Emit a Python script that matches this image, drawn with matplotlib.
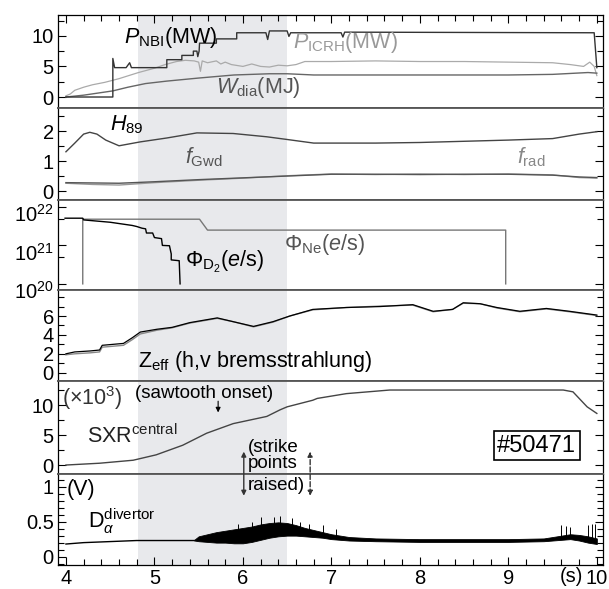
import matplotlib.pyplot as plt
import matplotlib.transforms as mtransforms
from matplotlib.ticker import MultipleLocator, FixedLocator, LogLocator, NullFormatter

plt.rcParams['font.family'] = ['Liberation Sans', 'DejaVu Sans']
plt.rcParams['mathtext.fontset'] = 'custom'
plt.rcParams['mathtext.rm'] = 'Liberation Sans'
plt.rcParams['mathtext.it'] = 'Liberation Sans:italic'
plt.rcParams['mathtext.bf'] = 'Liberation Sans:bold'

# janela analisada (faixa sombreada)
t_janela = [4.82, 6.5]

# painel 1: potencias e energia
t_nbi = [4.0, 4.53, 4.53, 4.55, 4.68, 4.72, 4.74, 5.14, 5.14, 5.31, 5.31, 5.44, 5.44, 5.48,
         5.49, 5.505, 5.51, 5.70, 5.70, 5.93, 5.93, 6.26, 6.28, 6.30, 6.50, 6.52, 6.54,
         7.11, 7.13, 7.15, 9.97, 10.0]
p_nbi = [0.0, 0.0, 6.3, 4.8, 4.8, 5.6, 4.8, 4.8, 6.1, 6.1, 6.8, 6.8, 7.5, 7.5,
         6.6, 7.5, 8.8, 8.8, 9.5, 9.5, 10.5, 10.5, 9.4, 10.8, 10.8, 9.9, 10.5,
         10.5, 9.8, 10.6, 10.5, 4.8]

t_icrh = [4.0, 4.05, 4.1, 4.2, 4.3, 4.44, 4.6, 4.82, 5.0, 5.12, 5.25, 5.35, 5.45, 5.5, 5.52,
          5.54, 5.6, 5.7, 5.75, 5.8, 5.87, 6.0, 6.1, 6.2, 6.3, 6.4, 6.5, 6.6, 6.7, 7.0,
          7.5, 8.0, 8.5, 9.0, 9.5, 9.7, 9.85, 9.92, 9.97, 10.0]
p_icrh = [0.2, 0.5, 1.1, 1.6, 2.0, 2.4, 3.0, 4.0, 4.7, 5.3, 5.8, 6.0, 5.9, 5.7, 4.2,
          5.9, 5.6, 5.9, 5.4, 5.7, 5.3, 5.0, 5.4, 5.0, 4.9, 5.2, 5.1, 5.3, 5.8, 5.8,
          5.9, 5.8, 5.8, 5.7, 5.6, 5.3, 5.0, 5.7, 5.0, 3.5]

t_wdia = [4.0, 4.2, 4.53, 4.7, 4.9, 5.14, 5.5, 5.9, 6.3, 6.5, 6.8, 7.5, 8.0, 8.5, 9.0, 9.5, 9.9, 10.0]
w_dia = [0.0, 0.3, 1.0, 1.6, 2.2, 2.6, 3.1, 3.6, 3.8, 3.8, 3.6, 3.6, 3.6, 3.6, 3.6, 3.7, 4.0, 3.9]

# painel 2: H89, fGwd, frad
t_h89 = [4.0, 4.1, 4.2, 4.27, 4.35, 4.45, 4.6, 4.84, 5.14, 5.48, 5.89, 6.27, 6.5, 6.8,
         7.5, 8.0, 8.5, 9.0, 9.5, 9.8, 10.0]
h89 = [1.31, 1.6, 1.9, 1.96, 1.9, 1.7, 1.51, 1.64, 1.77, 1.94, 1.92, 1.81, 1.72, 1.6,
       1.6, 1.62, 1.66, 1.7, 1.75, 1.9, 1.98]

t_f = [4.0, 4.3, 4.6, 5.0, 5.5, 6.0, 6.5, 7.0, 7.5, 8.0, 8.5, 9.0, 9.5, 9.8, 10.0]
f_gwd = [0.28, 0.27, 0.26, 0.31, 0.38, 0.44, 0.50, 0.56, 0.56, 0.55, 0.56, 0.56, 0.53, 0.47, 0.45]
f_rad = [0.26, 0.22, 0.20, 0.28, 0.36, 0.43, 0.51, 0.57, 0.55, 0.57, 0.55, 0.57, 0.54, 0.45, 0.43]

# painel 3: fluxos de D2 e Ne (e/s)
t_d2 = [3.99, 4.19, 4.2, 4.5, 4.75, 4.8, 4.86, 4.9, 4.91, 4.98, 5.0, 5.08, 5.09, 5.17,
        5.19, 5.19, 5.28, 5.29]
phi_d2 = [5.1e21, 5.1e21, 4.6e21, 4.0e21, 3.3e21, 3.1e21, 2.8e21, 2.7e21, 2.1e21, 2.1e21,
          1.6e21, 1.5e21, 1.0e21, 9.8e20, 6.0e20, 4.2e20, 4.0e20, 1.0e20]

t_ne = [4.19, 4.19, 5.51, 5.6, 8.97, 8.97]
phi_ne = [1.0e20, 4.8e21, 4.8e21, 2.5e21, 2.5e21, 1.0e20]

# painel 4: Zeff (h e v)
t_zeff = [4.0, 4.1, 4.27, 4.38, 4.41, 4.65, 4.75, 4.84, 5.03, 5.2, 5.4, 5.71, 5.89, 6.12,
          6.34, 6.53, 6.79, 7.17, 7.55, 7.92, 8.15, 8.37, 8.49, 8.68, 8.87, 9.13, 9.43,
          9.69, 10.0]
zeff_h = [2.0, 2.2, 2.3, 2.4, 2.9, 3.1, 3.7, 4.3, 4.6, 4.8, 5.3, 5.8, 5.4, 4.9,
          5.4, 6.0, 6.7, 6.9, 7.0, 7.2, 6.5, 6.7, 7.4, 7.3, 6.9, 6.5, 6.8, 6.5, 6.1]
zeff_v = [1.9, 2.0, 2.1, 2.2, 2.7, 2.9, 3.5, 4.1, 4.5, 4.75, 5.25, 5.75, 5.4, 4.85,
          5.35, 6.0, 6.65, 6.9, 7.05, 7.15, 6.45, 6.7, 7.35, 7.3, 6.85, 6.45, 6.75, 6.45, 6.05]

# painel 5: SXR central (x10^3)
t_sxr = [4.0, 4.38, 4.76, 5.02, 5.32, 5.59, 5.89, 6.08, 6.27, 6.42, 6.5, 6.79, 6.84, 7.17,
         7.66, 8.3, 9.05, 9.62, 9.73, 9.89, 10.0]
sxr = [0.0, 0.3, 0.8, 1.7, 3.3, 5.3, 6.9, 7.5, 8.1, 9.2, 9.7, 10.8, 11.1, 11.9,
       12.5, 12.5, 12.5, 12.5, 12.2, 9.7, 8.6]

# painel 6: D-alpha no divertor (V)
t_da = [4.0, 4.2, 4.4, 4.6, 4.8, 5.0, 5.2, 5.45]
d_alpha = [0.18, 0.20, 0.21, 0.22, 0.23, 0.23, 0.23, 0.23]
t_da_env = [5.45, 5.5, 5.6, 5.7, 5.8, 5.9, 6.0, 6.1, 6.2, 6.3, 6.4, 6.5, 6.6, 6.7, 6.8, 6.9,
            7.0, 7.2, 7.5, 8.0, 8.5, 9.0, 9.4, 9.6, 9.7, 9.8, 9.9, 10.0]
da_baixo = [0.23, 0.22, 0.21, 0.20, 0.20, 0.19, 0.19, 0.21, 0.24, 0.27, 0.29, 0.30, 0.30, 0.29,
            0.28, 0.27, 0.25, 0.23, 0.22, 0.21, 0.21, 0.21, 0.22, 0.24, 0.25, 0.23, 0.20, 0.18]
da_cima = [0.24, 0.29, 0.32, 0.35, 0.37, 0.39, 0.41, 0.43, 0.46, 0.48, 0.49, 0.48, 0.45, 0.41,
           0.38, 0.35, 0.32, 0.28, 0.26, 0.25, 0.25, 0.25, 0.26, 0.30, 0.32, 0.31, 0.29, 0.26]
t_elm = [5.95, 6.1, 6.2, 6.35, 6.42, 6.55, 6.65, 6.75, 6.9, 7.05, 9.6, 9.65, 9.7, 9.9, 9.95, 9.98]
elm_base = [0.3, 0.35, 0.4, 0.4, 0.4, 0.4, 0.38, 0.35, 0.3, 0.28, 0.28, 0.28, 0.28, 0.25, 0.25, 0.24]
elm_pico = [0.46, 0.50, 0.56, 0.56, 0.58, 0.55, 0.50, 0.47, 0.45, 0.40, 0.45, 0.44, 0.42, 0.45, 0.47, 0.46]

TICK = 14.5
ROT = 15.5
PEQ = 13.5

fig = plt.figure(figsize=(6.09, 5.89), dpi=100)
esq, larg = 0.0952, 0.895
caixas = [(0.8166, 0.1579), (0.6604, 0.1562), (0.5076, 0.1528),
          (0.3531, 0.1545), (0.1952, 0.1579), (0.0407, 0.1545)]
axs = [fig.add_axes([esq, b, larg, h]) for b, h in caixas]
ax1, ax2, ax3, ax4, ax5, ax6 = axs

for i, ax in enumerate(axs):
    ax.axvspan(t_janela[0], t_janela[1], color='#e8e9ec', zorder=0, lw=0)
    ax.set_xlim(3.91, 10.07)
    ax.xaxis.set_major_locator(MultipleLocator(1))
    ax.xaxis.set_minor_locator(MultipleLocator(0.2))
    ax.tick_params(which='both', direction='in', left=True, right=True,
                   top=(i == 0), bottom=(i == 5), labelbottom=(i == 5),
                   labelsize=TICK, width=0.8, pad=3)
    ax.tick_params(which='major', length=6)
    ax.tick_params(which='minor', length=4)
    for lado in ['left', 'right']:
        ax.spines[lado].set_color('black')
        ax.spines[lado].set_linewidth(0.9)
    ax.spines['top'].set_color('black' if i == 0 else '#555555')
    ax.spines['bottom'].set_color('black' if i == 5 else '#555555')
    ax.spines['top'].set_linewidth(0.9 if i == 0 else 1.3)
    ax.spines['bottom'].set_linewidth(0.9 if i == 5 else 1.3)

# painel 1
ax1.plot(t_icrh, p_icrh, color='#aaaaaa', lw=0.9)
ax1.plot(t_wdia, w_dia, color='#666666', lw=1.0)
ax1.plot(t_nbi, p_nbi, color='#333333', lw=1.0)
ax1.set_ylim(-1.8, 13.4)
ax1.yaxis.set_major_locator(FixedLocator([0, 5, 10]))
ax1.yaxis.set_minor_locator(MultipleLocator(2.5))
ax1.text(4.66, 8.9, r'$P_{\rm NBI}$(MW)', fontsize=ROT, color='black')
ax1.text(6.57, 8.0, r'$P_{\rm ICRH}$(MW)', fontsize=ROT, color='#999999')
ax1.text(5.70, 0.6, r'$W_{\rm dia}$(MJ)', fontsize=ROT, color='#555555')

# painel 2
ax2.plot(t_f, f_rad, color='#999999', lw=1.0)
ax2.plot(t_f, f_gwd, color='#555555', lw=1.0)
ax2.plot(t_h89, h89, color='#444444', lw=1.0)
ax2.set_ylim(-0.3, 2.77)
ax2.yaxis.set_major_locator(FixedLocator([0, 1, 2]))
ax2.yaxis.set_minor_locator(MultipleLocator(0.5))
ax2.text(4.5, 2.03, r'$H_{89}$', fontsize=ROT, color='black')
ax2.text(5.34, 0.93, r'$f_{\rm Gwd}$', fontsize=ROT, color='#555555')
ax2.text(9.1, 0.93, r'$f_{\rm rad}$', fontsize=ROT, color='#888888')

# painel 3
ax3.set_yscale('log')
ax3.plot(t_ne, phi_ne, color='#777777', lw=1.0)
ax3.plot(t_d2, phi_d2, color='black', lw=1.0)
ax3.set_ylim(10**19.84, 10**22.18)
ax3.yaxis.set_major_locator(FixedLocator([1e20, 1e21, 1e22]))
ax3.yaxis.set_minor_locator(FixedLocator([5e20, 5e21]))
ax3.yaxis.set_minor_formatter(NullFormatter())
ax3.text(5.34, 2.7e20, r'$\Phi_{\rm D_2}$($e$/s)', fontsize=ROT, color='black')
ax3.text(6.47, 7.6e20, r'$\Phi_{\rm Ne}$($e$/s)', fontsize=ROT, color='#555555')

# painel 4
ax4.plot(t_zeff, zeff_v, color='#888888', lw=1.0)
ax4.plot(t_zeff, zeff_h, color='black', lw=0.9)
ax4.set_ylim(-0.88, 8.75)
ax4.yaxis.set_major_locator(FixedLocator([0, 2, 4, 6]))
ax4.yaxis.set_minor_locator(MultipleLocator(1))
ax4.text(4.81, 0.6, r'Z$_{\rm eff}$ (h,v bremsstrahlung)', fontsize=ROT, color='black')

# painel 5
ax5.plot(t_sxr, sxr, color='#444444', lw=1.0)
ax5.set_ylim(-1.5, 14.0)
ax5.yaxis.set_major_locator(FixedLocator([0, 5, 10]))
ax5.yaxis.set_minor_locator(MultipleLocator(2.5))
ax5.text(3.96, 10.0, r'($\times$10$^3$)', fontsize=ROT, color='#333333')
ax5.text(4.24, 3.7, r'SXR$^{\rm central}$', fontsize=ROT, color='#222222')
ax5.text(4.78, 11.2, '(sawtooth onset)', fontsize=PEQ, color='black')
ax5.annotate('', xy=(5.72, 8.3), xytext=(5.72, 11.1),
             arrowprops=dict(arrowstyle='-|>', color='black', lw=0.8, mutation_scale=7))
ax5.text(9.32, 3.2, '#50471', fontsize=17, ha='center', va='center',
         bbox=dict(boxstyle='square,pad=0.15', fc='white', ec='black', lw=1.2))
ax5.text(6.06, 2.2, '(strike', fontsize=PEQ, color='black')
ax5.text(6.06, -0.5, 'points', fontsize=PEQ, color='black')

# painel 6
ax6.plot(t_da, d_alpha, color='black', lw=1.0)
ax6.fill_between(t_da_env, da_baixo, da_cima, color='black', lw=0.6)
ax6.vlines(t_elm, elm_base, elm_pico, color='black', lw=0.7)
ax6.set_ylim(-0.12, 1.18)
ax6.yaxis.set_major_locator(FixedLocator([0, 0.5, 1]))
ax6.yaxis.set_minor_locator(MultipleLocator(0.1))
ax6.yaxis.set_major_formatter(lambda v, pos: f'{v:g}')
ax6.text(6.06, 0.95, 'raised)', fontsize=PEQ, color='black')
ax6.text(4.01, 0.88, '(V)', fontsize=ROT, color='black')
ax6.text(4.25, 0.41, r'D$_\alpha^{\rm divertor}$', fontsize=ROT, color='black')
ax6.text(9.71, -0.02, '(s)', fontsize=TICK, ha='center', va='top',
         transform=ax6.get_xaxis_transform())

# setas dos strike points (desenhadas no ultimo painel para ficarem por cima)
ax6.annotate('', xy=(6.01, 1.5), xytext=(6.01, 0.87), annotation_clip=False,
             arrowprops=dict(arrowstyle='<|-|>', color='#333333', lw=1.0, mutation_scale=7,
                             shrinkA=0, shrinkB=0))
ax6.annotate('', xy=(6.76, 1.5), xytext=(6.76, 0.87), annotation_clip=False,
             arrowprops=dict(arrowstyle='<|-|>', color='#333333', lw=1.0, ls='--',
                             mutation_scale=7, shrinkA=0, shrinkB=0))

# rotulos 10^n um pouco abaixo do tick
desloc = mtransforms.ScaledTranslation(0, -6 / 100, fig.dpi_scale_trans)
for lab in ax3.get_yticklabels():
    lab.set_transform(lab.get_transform() + desloc)

fig.savefig('out.png', dpi=100)
